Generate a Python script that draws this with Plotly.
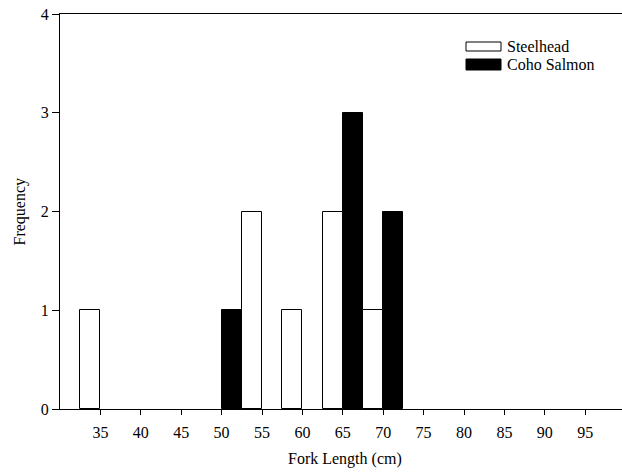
import plotly.graph_objects as go

# Fork length bins (cm), lower edge of each 5 cm bin
bin_starts = [30, 35, 40, 45, 50, 55, 60, 65, 70, 75, 80, 85, 90, 95]
steelhead_counts = [1, 0, 0, 0, 2, 1, 2, 1, 0, 0, 0, 0, 0, 0]
coho_counts = [0, 0, 0, 0, 1, 0, 0, 3, 2, 0, 0, 0, 0, 0]

x_ticks = [35, 40, 45, 50, 55, 60, 65, 70, 75, 80, 85, 90, 95]
y_ticks = [0, 1, 2, 3, 4]

FONT = "Liberation Serif, Times New Roman, serif"
FS = 16
half = 2.5  # each species takes half of a 5 cm bin


def nonzero(vals):
    # empty bins get no bar at all, so the baseline stays a single thin line
    return [v if v else None for v in vals]


fig = go.Figure()
# Coho on the left half of each bin
fig.add_trace(go.Bar(
    x=bin_starts, y=nonzero(coho_counts), name="Coho Salmon",
    width=half, offset=0,
    marker=dict(color="black", line=dict(color="black", width=1)),
))
# Steelhead on the right half of each bin
fig.add_trace(go.Bar(
    x=bin_starts, y=nonzero(steelhead_counts), name="Steelhead",
    width=half, offset=half,
    marker=dict(color="white", line=dict(color="black", width=1)),
))

# plot area in pixels: x 60..622, y 14..409
L, R, T, B = 60, 622, 14, 409
W, H = R - L, B - T


def px(x):
    return (x - L) / W


def py(y):
    return (B - y) / H


shapes = [
    dict(type="rect", xref="paper", yref="paper",
         x0=px(466), x1=px(501), y0=py(51), y1=py(42),
         fillcolor="white", line=dict(color="black", width=1)),
    dict(type="rect", xref="paper", yref="paper",
         x0=px(466), x1=px(501), y0=py(70), y1=py(59),
         fillcolor="black", line=dict(color="black", width=1)),
]
annotations = [
    dict(text="Steelhead", xref="paper", yref="paper", x=px(505), y=py(46.5),
         xanchor="left", yanchor="middle", showarrow=False,
         font=dict(family=FONT, size=FS, color="black")),
    dict(text="Coho Salmon", xref="paper", yref="paper", x=px(505), y=py(64.5),
         xanchor="left", yanchor="middle", showarrow=False,
         font=dict(family=FONT, size=FS, color="black")),
    dict(text="Fork Length (cm)", xref="paper", yref="paper", x=px(345), y=py(459),
         xanchor="center", yanchor="middle", showarrow=False,
         font=dict(family=FONT, size=FS, color="black")),
    dict(text="Frequency", xref="paper", yref="paper", x=px(19), y=0.5,
         xanchor="center", yanchor="middle", showarrow=False, textangle=-90,
         font=dict(family=FONT, size=FS, color="black")),
]

fig.update_layout(
    width=622, height=473,
    margin=dict(l=L, r=0, t=T, b=473 - B, pad=0),
    paper_bgcolor="white", plot_bgcolor="white",
    barmode="overlay", bargap=0,
    showlegend=False,
    font=dict(family=FONT, size=FS, color="black"),
    shapes=shapes, annotations=annotations,
    xaxis=dict(
        range=[30, 30 + W / 8.08], tickvals=x_ticks,
        showgrid=False, zeroline=False,
        showline=True, linecolor="black", linewidth=1, mirror=True,
        ticks="outside", ticklen=5, tickcolor="black", tickwidth=1,
        ticklabelstandoff=4,
        tickfont=dict(family=FONT, size=FS, color="black"),
    ),
    yaxis=dict(
        range=[0, 4], tickvals=y_ticks,
        showgrid=False, zeroline=False,
        showline=True, linecolor="black", linewidth=1,
        ticks="outside", ticklen=7, tickcolor="black", tickwidth=1,
        tickfont=dict(family=FONT, size=FS, color="black"),
    ),
)

fig.write_html("out.html")
